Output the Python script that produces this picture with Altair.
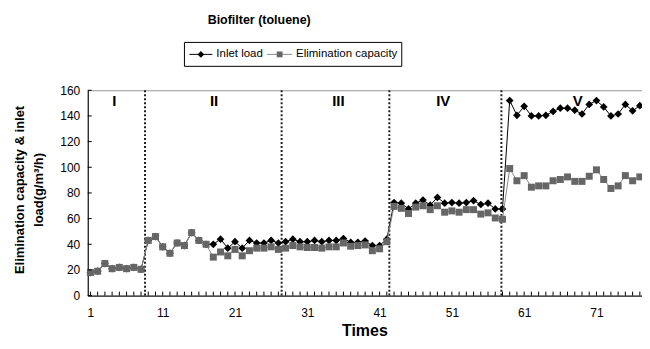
import altair as alt
import pandas as pd

# ---------------- data ----------------
times = list(range(1, 78))
inlet_load = [18, 19, 25, 21, 22, 21, 22, 20.5,
              43, 46, 38, 33, 41, 39, 49, 43, 40, 40, 44, 37, 42, 37, 43, 41, 41, 43, 41,
              42, 44, 42, 42, 43, 42, 43, 43, 44.5, 41.5, 41.5, 42.5, 39, 39, 44,
              72.5, 72, 67.5, 72, 74.5, 70.5, 76.5, 72, 72.5, 72, 72.5, 74, 71, 72, 67.5,
              67.5, 152, 140.5, 147.5, 140, 140, 140.5, 143.5, 146, 146, 144.5, 141.5,
              149, 152, 147, 140, 141.5, 149, 144, 148]
elim_capacity = [18, 19, 25, 21, 22, 21, 22, 20.5,
                 43, 46, 38, 33, 41, 39, 49, 43, 40, 30, 34, 31, 36, 31, 35, 37, 37, 38, 36,
                 37, 39, 38, 37.5, 37.5, 37, 38, 38, 41, 38.5, 39, 39.5, 35, 36.5, 42,
                 69.5, 68, 64, 69, 70, 67, 70, 65, 66, 65, 67, 67, 63.5, 64.5, 60.5,
                 59.5, 99, 89.5, 93.5, 84.5, 85.5, 85.5, 89.5, 90.5, 92.5, 89, 89, 93, 98,
                 90.5, 83.5, 85.5, 93.5, 89.5, 92.5]
phase_bounds = [8.55, 27.45, 42.35, 57.85]
phase_names = ["I", "II", "III", "IV", "V"]
phase_label_x = [4.3, 18.1, 35.3, 49.8, 68.4]
phase_label_y = [152, 152, 152, 152, 152]
x_label_values = [1, 11, 21, 31, 41, 51, 61, 71]
y_tick_values = [0, 20, 40, 60, 80, 100, 120, 140, 160]

# ---------------- layout ----------------
W, H = 556, 206
FONT = "Liberation Sans"
xs = alt.Scale(domain=[0.63, 77.3], nice=False, zero=False)
ys = alt.Scale(domain=[0, 160], nice=False, zero=False)

df = pd.DataFrame({"t": times, "inlet": inlet_load, "ec": elim_capacity})
bounds_df = pd.DataFrame({"t": phase_bounds})
phase_df = pd.DataFrame({"name": phase_names, "t": phase_label_x, "v": phase_label_y})
xt_df = pd.DataFrame({"t": times})
yt_df = pd.DataFrame({"v": y_tick_values})
one = pd.DataFrame({"a": [0]})

x_axis = alt.Axis(values=x_label_values, ticks=False, grid=False, title=None,
                  labelFontSize=12, labelPadding=12, labelFont=FONT, labelColor="black",
                  domainColor="black", domainWidth=1)
y_axis = alt.Axis(values=y_tick_values, ticks=False, grid=False, title=None,
                  labelFontSize=12, labelPadding=8, labelFont=FONT, labelColor="black",
                  domainColor="black", domainWidth=1)

def X(field):
    return alt.X(field, scale=xs, axis=x_axis)

def Y(field):
    return alt.Y(field, scale=ys, axis=y_axis)

base = alt.Chart(df)

inlet_line = base.mark_line(color="black", strokeWidth=1).encode(x=X("t:Q"), y=Y("inlet:Q"))
inlet_pts = base.mark_point(shape="diamond", filled=True, size=60, color="black",
                            opacity=1).encode(x=X("t:Q"), y=Y("inlet:Q"))
ec_line = base.mark_line(color="#8a8a8a", strokeWidth=1).encode(x=X("t:Q"), y=Y("ec:Q"))
ec_pts = base.mark_square(size=49, color="#666666", opacity=1).encode(x=X("t:Q"), y=Y("ec:Q"))

dividers = alt.Chart(bounds_df).mark_rule(color="#222222", strokeWidth=2,
                                          strokeDash=[2, 2]).encode(
    x=X("t:Q"), y=alt.value(0), y2=alt.value(H))

phase_text = alt.Chart(phase_df).mark_text(font=FONT, fontSize=15, fontWeight="bold",
                                           align="center", baseline="middle",
                                           color="black").encode(
    x=X("t:Q"), y=Y("v:Q"), text="name:N")

x_ticks = alt.Chart(xt_df).mark_rule(color="black", strokeWidth=1).encode(
    x=X("t:Q"), y=alt.value(H - 4), y2=alt.value(H))
y_ticks = alt.Chart(yt_df).mark_rule(color="black", strokeWidth=1).encode(
    y=Y("v:Q"), x=alt.value(0), x2=alt.value(4))

def txt(s, x, y, size=12, weight="normal", align="center", angle=0,
        baseline="middle", color="black"):
    kw = dict(font=FONT, fontSize=size, fontWeight=weight, align=align,
              baseline=baseline, color=color, text=s)
    if angle:
        kw["angle"] = angle
    return alt.Chart(one).mark_text(**kw).encode(x=alt.value(x), y=alt.value(y))

title = txt("Biofilter (toluene)", 172, -70, size=12.5, weight="bold")
x_title = txt("Times", W / 2, 247, size=16, weight="bold", baseline="alphabetic")
y_title1 = txt("Elimination capacity & inlet", -68, 100, size=13, weight="bold", angle=270)
y_title2 = txt("load(g/m\u00b3/h)", -49, 100, size=13, weight="bold", angle=270)

leg_box = alt.Chart(one).mark_rect(fill="white", stroke="black", strokeWidth=1).encode(
    x=alt.value(97), x2=alt.value(315), y=alt.value(-48), y2=alt.value(-24))
leg_l1 = alt.Chart(one).mark_rule(color="black", strokeWidth=1).encode(
    x=alt.value(102), x2=alt.value(125), y=alt.value(-36))
leg_p1 = alt.Chart(one).mark_point(shape="diamond", filled=True, size=45, color="black",
                                   opacity=1).encode(x=alt.value(113.5), y=alt.value(-36))
leg_t1 = txt("Inlet load", 129, -36, size=11.5, align="left")
leg_l2 = alt.Chart(one).mark_rule(color="#8a8a8a", strokeWidth=1).encode(
    x=alt.value(180), x2=alt.value(205), y=alt.value(-36))
leg_p2 = alt.Chart(one).mark_square(size=34, color="#666666", opacity=1).encode(
    x=alt.value(192.5), y=alt.value(-36))
leg_t2 = txt("Elimination capacity", 209, -36, size=11.5, align="left")

chart = alt.layer(
    inlet_line, dividers, inlet_pts, ec_line, ec_pts, phase_text, x_ticks, y_ticks,
    title, x_title, y_title1, y_title2,
    leg_box, leg_l1, leg_p1, leg_t1, leg_l2, leg_p2, leg_t2,
).properties(
    width=W, height=H,
    padding={"left": 80, "top": 82, "right": 0, "bottom": 45},
    autosize=alt.AutoSizeParams(type="none"),
    background="white",
).configure_view(stroke="#9a9a9a", strokeWidth=1)

chart.save("out.html", embed_options={"renderer": "svg", "actions": False})
